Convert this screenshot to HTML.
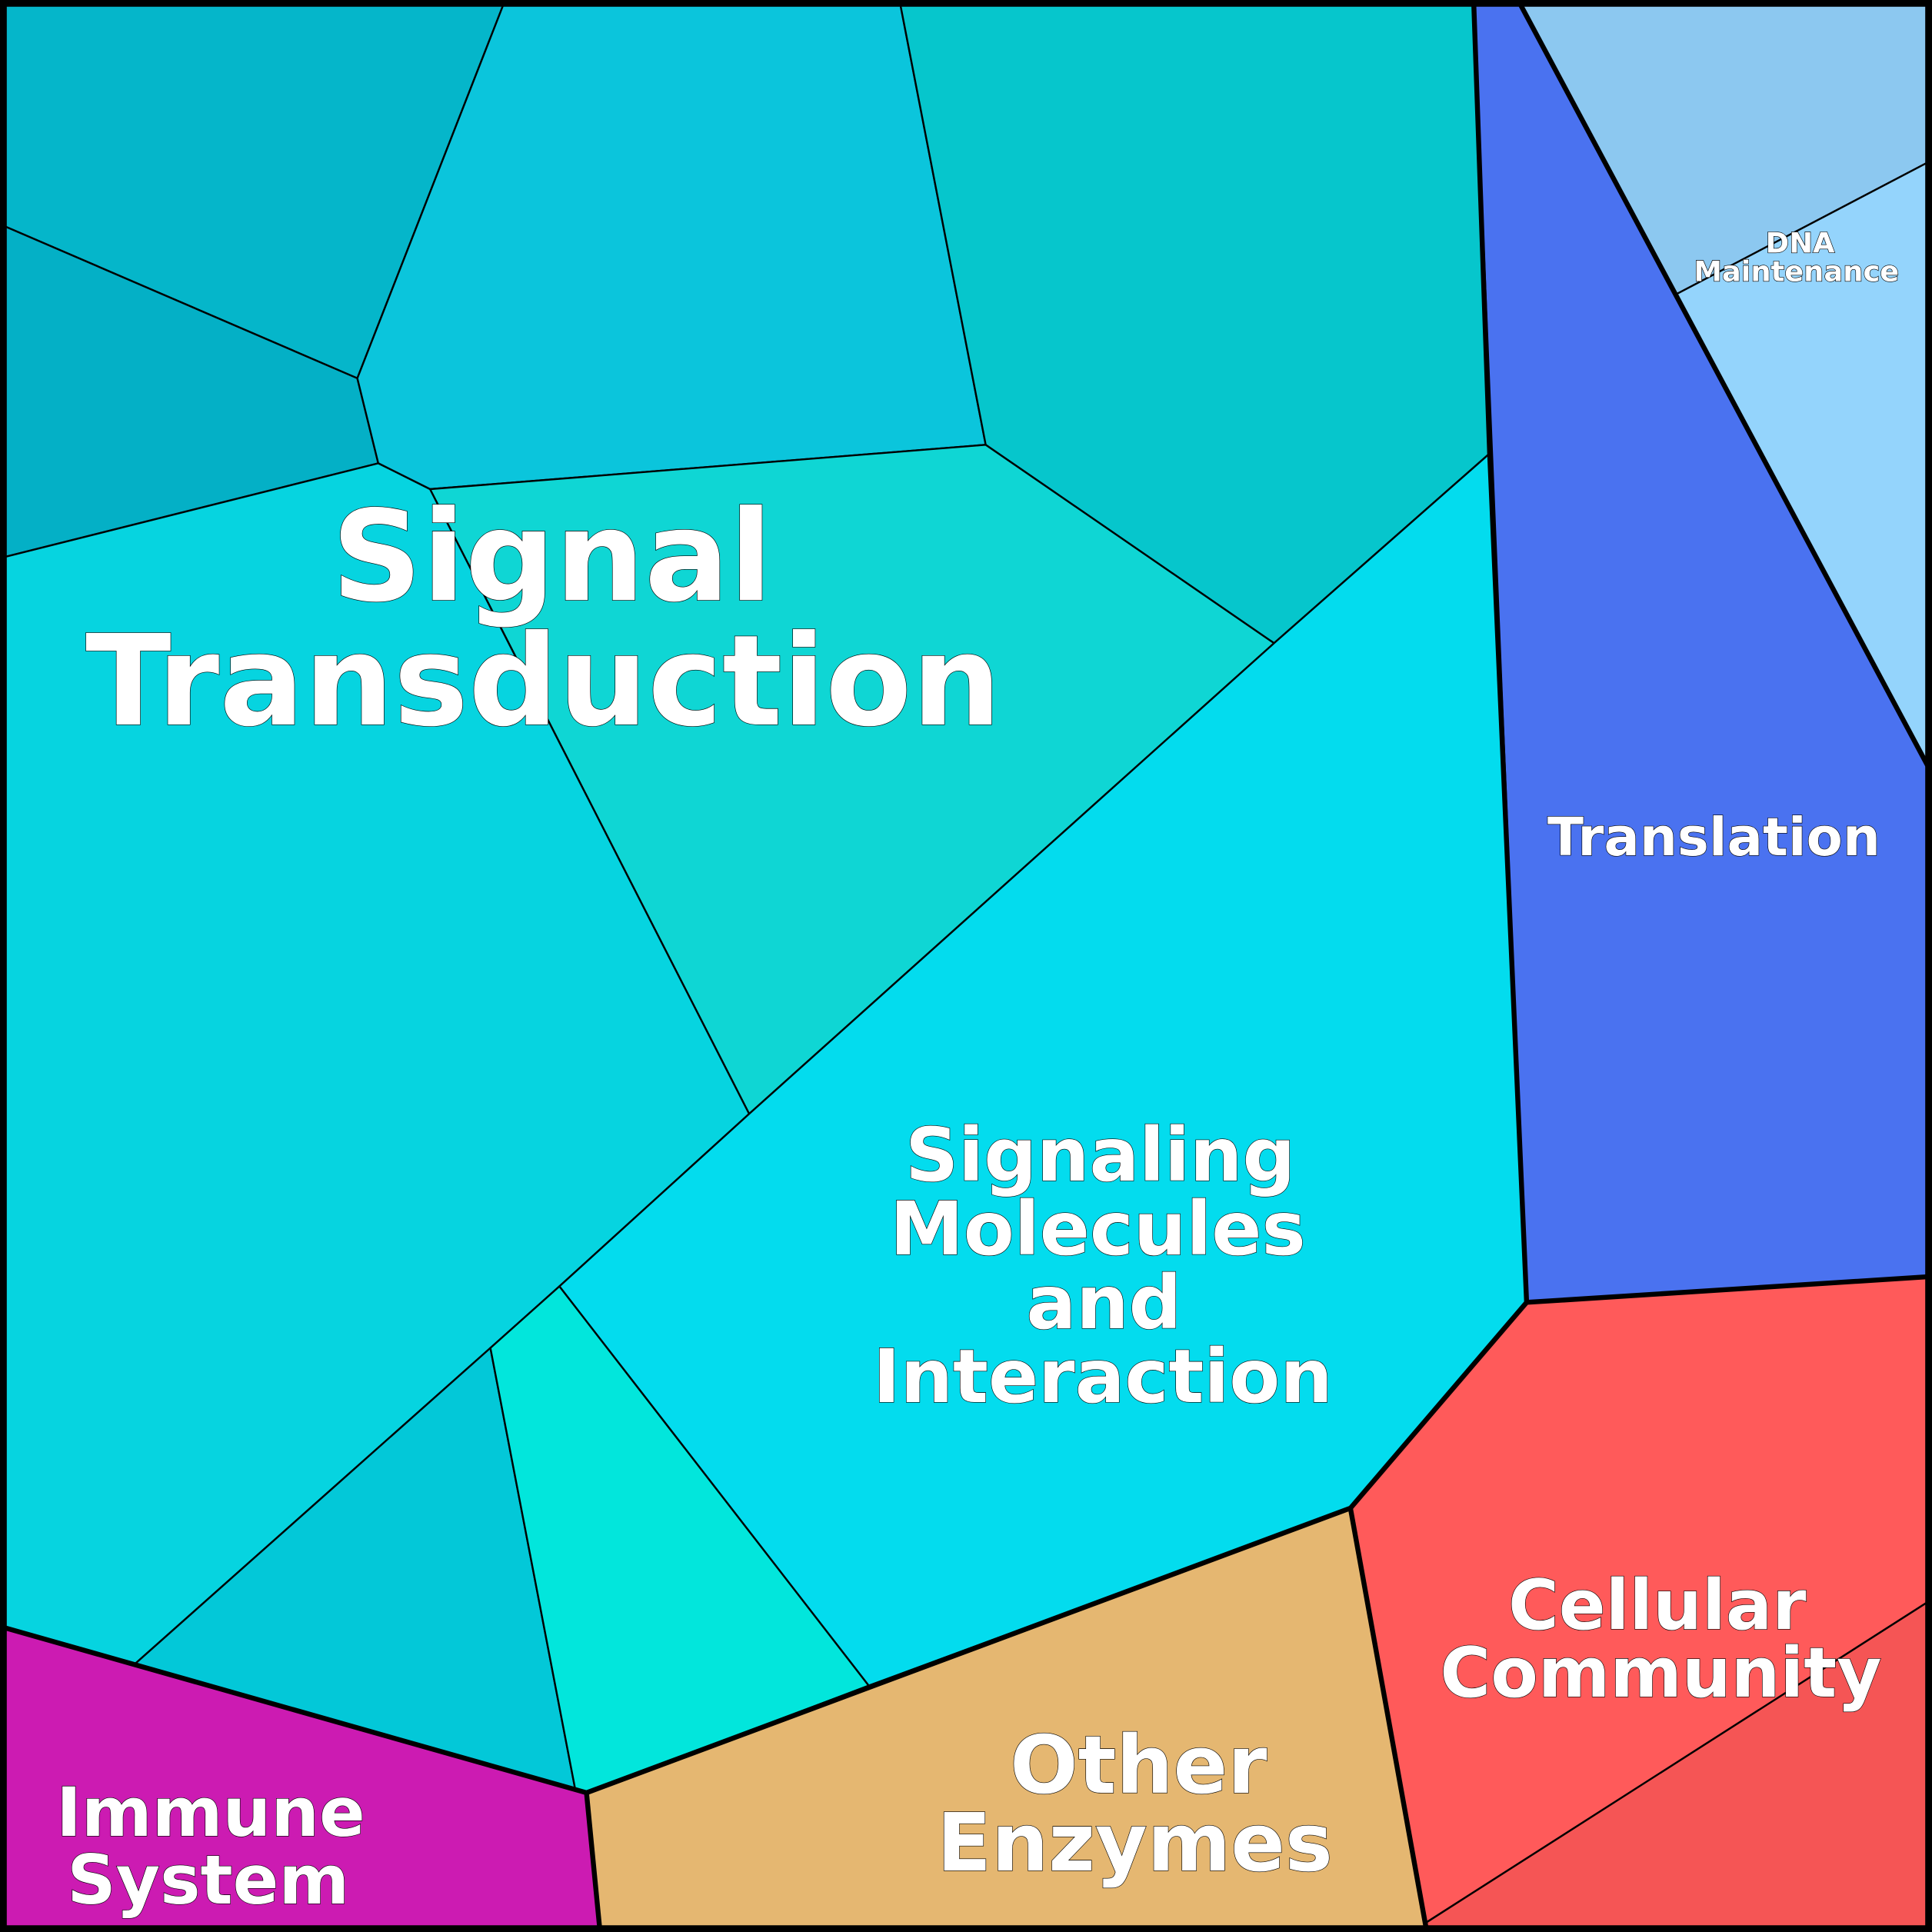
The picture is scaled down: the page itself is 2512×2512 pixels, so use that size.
<!DOCTYPE html>
<html><head><meta charset="utf-8"><style>
html,body{margin:0;padding:0;background:#fff}
svg{display:block}
text{font-family:"DejaVu Sans","Liberation Sans",sans-serif;font-weight:bold;fill:#fff;stroke:#000;stroke-width:0.8;text-anchor:middle;paint-order:stroke}
</style></head><body>
<svg width="2512" height="2512" viewBox="0 0 1568 1568" xmlns="http://www.w3.org/2000/svg">
<g stroke="#000" stroke-width="1.5" stroke-linejoin="round">
<polygon fill="#05b6ca" points="0,0 410,0 290,307 0,182"/>
<polygon fill="#04b0c6" points="0,182 290,307 307,376 0,453"/>
<polygon fill="#0bc5dc" points="410,0 730,0 800,361 349,397 307,376 290,307"/>
<polygon fill="#06c6cc" points="730,0 1196,0 1209,368 1034,522 800,361"/>
<polygon fill="#0fd6d4" points="349,397 800,361 1034,522 608,904"/>
<polygon fill="#06d4e0" points="0,453 307,376 349,397 608,904 454,1044 398,1094 110,1350 0,1320"/>
<polygon fill="#03dcee" points="1209,368 1239,1057 1096,1224 705,1368 454,1044 608,904 1034,522"/>
<polygon fill="#03c8d8" points="398,1094 467,1453 110,1350"/>
<polygon fill="#02e6dc" points="398,1094 454,1044 705,1368 476,1455 467,1453"/>
<polygon fill="#cc1bb2" points="0,1320 110,1350 476,1455 487,1568 0,1568"/>
<polygon fill="#e5b771" points="476,1455 1096,1224 1158,1568 487,1568"/>
<polygon fill="#ff5a5a" points="1096,1224 1239,1057 1568,1036 1568,1298 1158,1560 1158,1568"/>
<polygon fill="#f55555" points="1158,1560 1568,1298 1568,1568 1158,1568"/>
<polygon fill="#4a72f0" points="1196,0 1232,0 1568,628 1568,1036 1239,1057"/>
<polygon fill="#8cc8f0" points="1232,0 1568,0 1568,130 1360,239"/>
<polygon fill="#94d4fc" points="1360,239 1568,130 1568,628"/>
</g>
<g stroke="#000" stroke-width="4" fill="none" stroke-linejoin="round">
<polyline points="1196,0 1209,368 1239,1057 1096,1224 476,1455 0,1320"/>
<polyline points="1239,1057 1568,1036"/>
<polyline points="1232,0 1568,628"/>
<polyline points="1096,1224 1158,1568"/>
<polyline points="476,1455 487,1568"/>
<rect x="2.5" y="2.5" width="1563" height="1563" stroke-width="6"/>
</g>
<text x="448" y="487" font-size="102">Signal</text>
<text x="441" y="588" font-size="102">Transduction</text>
<text x="893" y="958" font-size="60">Signaling</text>
<text x="891" y="1018" font-size="60">Molecules</text>
<text x="896" y="1078" font-size="60">and</text>
<text x="895" y="1138" font-size="60">Interaction</text>
<text x="1391" y="694" font-size="43">Translation</text>
<text x="1345" y="1322" font-size="56">Cellular</text>
<text x="1348" y="1377" font-size="56">Community</text>
<text x="924" y="1455" font-size="65">Other</text>
<text x="921" y="1518" font-size="65">Enzymes</text>
<text x="171" y="1490" font-size="55">Immune</text>
<text x="169" y="1545" font-size="55">System</text>
<text x="1461" y="205" font-size="23">DNA</text>
<text x="1458" y="228" font-size="23">Maintenance</text>
</svg>
</body></html>
